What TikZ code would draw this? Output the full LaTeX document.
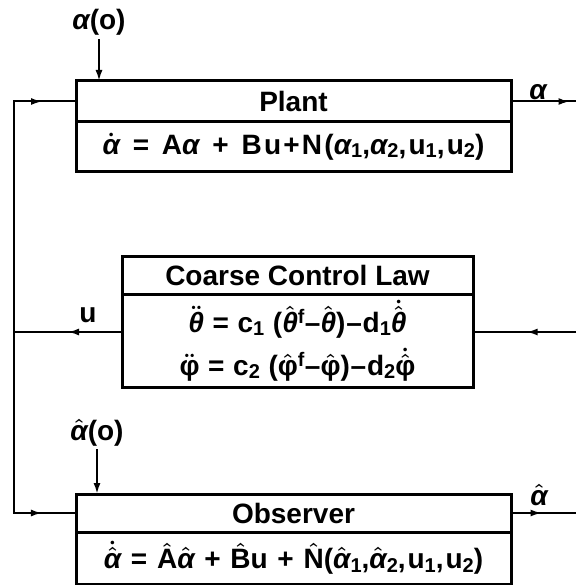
\documentclass[tikz,border=0pt]{standalone}
\usepackage{fontspec}
\setmainfont{Liberation Sans}
\usetikzlibrary{positioning, arrows.meta, decorations.markings}

\newcommand{\ga}{{\itshape α}}
\newcommand{\gth}{{\itshape θ}}
\newcommand{\gph}{φ}
\newcommand{\hatx}[1]{$\hat{\hbox{#1}}$}
\newcommand{\dotx}[1]{$\dot{\hbox{#1}}$}
\newcommand{\ddotx}[1]{$\ddot{\hbox{#1}}$}
\newcommand{\dothatx}[1]{$\dot{\hat{\hbox{#1}}}$}
\newcommand{\lo}[1]{\raisebox{-0.22ex}{\fontsize{20}{20}\selectfont #1}}
\newcommand{\gap}{\hspace{0.1em}}

\begin{document}
\begin{tikzpicture}[
    x=1pt, y=-1pt,
    every node/.style={font=\bfseries\boldmath\fontsize{28}{43}\selectfont},
    hdr/.style={draw, line width=3pt, outer sep=0pt, inner sep=0pt, minimum width=435pt, minimum height=38pt},
    body/.style={hdr, align=center},
    spaced/.style={font=\bfseries\boldmath\fontsize{28}{43}\selectfont\addfontfeature{LetterSpace=#1}},
    wire/.style={line width=2pt},
    >={Latex[length=11pt,width=7pt]},
    midarrow/.style={wire, postaction={decorate}, decoration={markings, mark=at position #1 with {\arrow{>}}}}
]
\useasboundingbox (0,0) rectangle (576,585);

% --- Blocks ---
\node[hdr, minimum height=41pt] (plant) at (293.5,101.5) {Plant};
\node[body, spaced=8, minimum height=50pt, below=0pt of plant] (planteq)
    {\dotx{\ga}\gap{} = \gap A\ga{}\gap{} + \gap Bu+N(\ga\lo{1},\ga\lo{2},u\lo{1},u\lo{2})};

\node[hdr, minimum width=351pt, below=84pt of planteq, xshift=4pt] (law) {Coarse Control Law};
\node[body, spaced=3, minimum width=351pt, minimum height=93pt, below=0pt of law] (laweq)
    {\ddotx{\gth} = c\lo{1} (\hatx{\gth}\textsuperscript{f}–\hatx{\gth})–d\lo{1}\dothatx{\gth}\\
     \ddotx{\gph} = c\lo{2} (\hatx{\gph}\textsuperscript{f}–\hatx{\gph})–d\lo{2}\dothatx{\gph}};

\node[hdr, below=107pt of laweq, xshift=-4pt] (obs) {Observer};
\node[body, spaced=7, minimum height=52pt, below=0pt of obs] (obseq)
    {\dothatx{\ga} = \hatx{A}\hatx{\ga} + \hatx{B}u + \hatx{N}(\hatx{\ga}\lo{1},\hatx{\ga}\lo{2},u\lo{1},u\lo{2})};

% --- Labels ---
\node[anchor=base] (ainit) at (99,30) {\ga(o)};
\node[anchor=base] (ahatinit) at (97,440) {\hatx{\ga}(o)};
\node[anchor=base] (alab) at (538,100) {\ga};
\node[anchor=base] (ahatlab) at (539,505) {\hatx{\ga}};
\node[anchor=base] (ulab) at (88,322) {u};

% --- Free ends ---
\coordinate (ujoin) at (14,332);
\coordinate (lawin) at (576,332);
\coordinate (aend) at (plant.east -| lawin);
\coordinate (ahatend) at (obs.east -| lawin);

% --- Connections ---
\draw[wire, ->] (ainit) -- (ainit |- plant.north);
\draw[wire, ->] (ahatinit) -- (ahatinit |- obs.north);
\draw[midarrow=0.9] (plant.east) -- (aend);
\draw[midarrow=0.47] (obs.east) -- (ahatend);
\draw[midarrow=0.48] (lawin) -- (laweq.east |- lawin);
\draw[midarrow=0.5] (laweq.west |- ujoin) -- (ujoin);
\draw[midarrow=0.884] (ujoin) |- (plant.west);
\draw[midarrow=0.86] (ujoin) |- (obs.west);

\end{tikzpicture}
\end{document}
